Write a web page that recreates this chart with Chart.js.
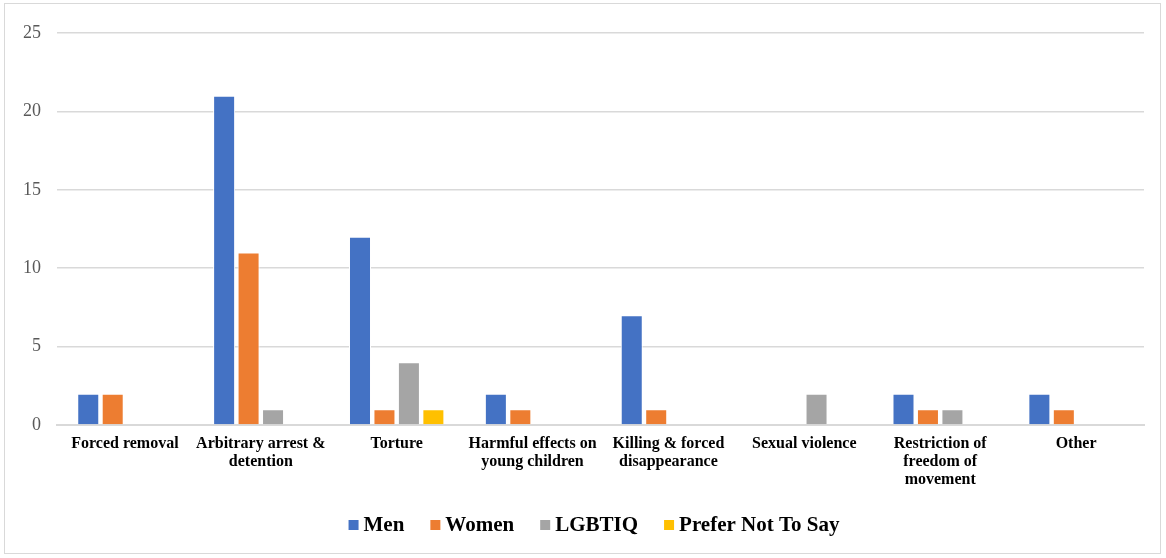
<!DOCTYPE html>
<html>
<head>
<meta charset="utf-8">
<script src="https://cdn.jsdelivr.net/npm/chart.js@4.4.0/dist/chart.umd.min.js"></script>
<style>
    html, body { margin: 0; padding: 0; background: #fff; }
    #frame {
        position: absolute;
        left: 4px; top: 3px;
        width: 1157px; height: 551px;
        border: 1px solid #d9d9d9;
        box-sizing: border-box;
    }
    #chart { display: block; }
</style>
</head>
<body>
<div id="frame"><canvas id="chart" width="1155" height="549"></canvas></div>
<script>
// Categories (wrapped as in the original)
const categories = [
    ['Forced removal'],
    ['Arbitrary arrest &', 'detention'],
    ['Torture'],
    ['Harmful effects on', 'young children'],
    ['Killing & forced', 'disappearance'],
    ['Sexual violence'],
    ['Restriction of', 'freedom of', 'movement'],
    ['Other']
];

// Series values
const men = [2, 21, 12, 2, 7, null, 2, 2];
const women = [2, 11, 1, 1, 1, null, 1, 1];
const lgbtiq = [null, 1, 4, null, null, 2, 1, null];
const preferNotToSay = [null, null, 1, null, null, null, null, null];

// Y axis ticks
const yTicks = [0, 5, 10, 15, 20, 25];

const serif = "'Liberation Serif', 'Times New Roman', serif";

function series(label, data, color) {
    return {
        label: label,
        data: data,
        backgroundColor: color,
        borderColor: '#ffffff',
        borderWidth: 1,
        barPercentage: 0.9,
        categoryPercentage: 0.72
    };
}

/**
 * Legend drawn by hand so the marker sits close to its text
 */
const bottomLegend = {
    id: 'bottomLegend',
    afterDraw(chart) {
        const ctx = chart.ctx;
        const box = 10, gap = 5, spacing = 26, centerX = 589, y = 521;
        ctx.save();
        ctx.font = 'bold 21px ' + serif;
        ctx.textBaseline = 'middle';
        const items = chart.data.datasets.map(ds => ({
            text: ds.label,
            color: ds.backgroundColor,
            w: box + gap + ctx.measureText(ds.label).width
        }));
        const total = items.reduce((s, it) => s + it.w, 0) + spacing * (items.length - 1);
        let x = centerX - total / 2;
        items.forEach(it => {
            ctx.fillStyle = it.color;
            ctx.fillRect(x, y - box / 2, box, box);
            ctx.fillStyle = '#000';
            ctx.fillText(it.text, x + box + gap, y + 1);
            x += it.w + spacing;
        });
        ctx.restore();
    }
};

new Chart(document.getElementById('chart').getContext('2d'), {
    type: 'bar',
    data: {
        labels: categories,
        datasets: [
            series('Men', men, '#4472c4'),
            series('Women', women, '#ed7d31'),
            series('LGBTIQ', lgbtiq, '#a5a5a5'),
            series('Prefer Not To Say', preferNotToSay, '#ffc000')
        ]
    },
    options: {
        responsive: false,
        animation: false,
        layout: { padding: { left: 2, right: 16, top: 29, bottom: 54 } },
        scales: {
            x: {
                grid: { display: false, drawTicks: false },
                border: { display: true, color: '#d9d9d9', width: 2 },
                ticks: {
                    color: '#000',
                    padding: 10,
                    maxRotation: 0,
                    autoSkip: false,
                    font: { family: serif, size: 16, weight: 'bold', lineHeight: 1.125 }
                }
            },
            y: {
                min: 0,
                max: 25,
                afterBuildTicks: axis => { axis.ticks = yTicks.map(v => ({ value: v })); },
                grid: { color: '#d9d9d9', lineWidth: 1.5, drawTicks: false },
                border: { display: false },
                ticks: {
                    color: '#595959',
                    padding: 16,
                    font: { family: serif, size: 18 }
                }
            }
        },
        plugins: {
            legend: { display: false },
            tooltip: { enabled: false }
        }
    },
    plugins: [bottomLegend]
});
</script>
</body>
</html>
